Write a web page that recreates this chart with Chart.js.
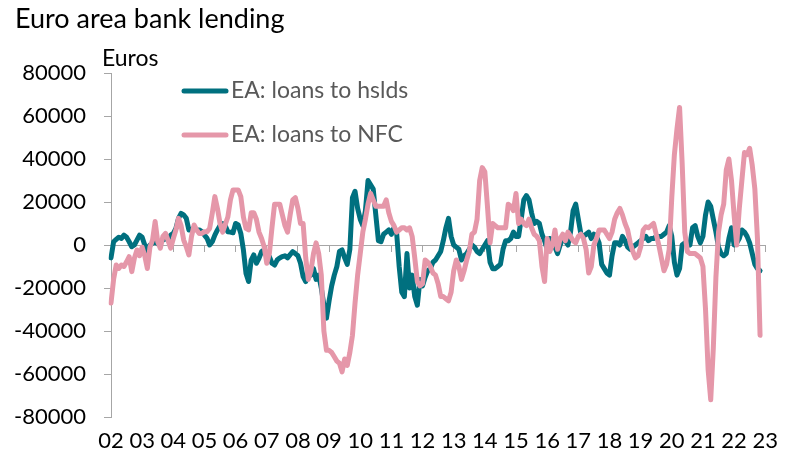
<!DOCTYPE html>
<html><head><meta charset="utf-8">
<script src="https://cdn.jsdelivr.net/npm/chart.js@4.4.1/dist/chart.umd.min.js"></script>
<style>
html,body{margin:0;padding:0;background:#fff;}
#wrap{position:relative;width:789px;height:462px;overflow:hidden;}
canvas{position:absolute;left:0;top:0;}
.t{position:absolute;font-family:Lato,sans-serif;white-space:nowrap;color:#000;}
</style></head><body>
<div id="wrap">
<canvas id="c" width="789" height="462"></canvas>
<div class="t" id="title" style="left:15px;top:4px;font-size:27px;line-height:27px;">Euro area bank lending</div>
<div class="t" id="unit" style="left:102px;top:46px;font-size:23px;line-height:23px;">Euros</div>
</div>
<script>
// ---- data ----
const years = [2002,2003,2004,2005,2006,2007,2008,2009,2010,2011,2012,2013,2014,2015,2016,2017,2018,2019,2020,2021,2022,2023];
const yearLabels = ['02','03','04','05','06','07','08','09','10','11','12','13','14','15','16','17','18','19','20','21','22','23'];
const seriesNames = ['EA: loans to hslds', 'EA: loans to NFC'];
const yTicks = [-80000,-60000,-40000,-20000,0,20000,40000,60000,80000];

// monthly categories Jan 2002 .. Jan 2023
const months = [];
years.forEach(y => { for (let m = 1; m <= 12; m++) { if (y < 2023 || m === 1) months.push(y + '-' + (m < 10 ? '0' + m : m)); } });

const hhLoans = [
-6000,1500,2600,3600,3100,4600,3600,1500,-800,0,2300,4600,
3600,0,-3100,0,800,1500,500,1500,2300,3100,2300,4600,
5400,7700,12400,14700,14000,12400,7000,7300,7700,7000,7000,6200,
4600,3100,0,1500,4600,7000,9000,10000,9000,6200,6000,5700,
10000,9300,5400,-2300,-13200,-17000,-7000,-4600,-8500,-6200,-3100,-2300,
-3900,-5400,-8500,-9300,-7000,-6000,-5400,-5000,-6000,-4500,-3100,-4000,
-5000,-8500,-14700,-17000,-13000,-14000,-11000,-16000,-14000,-20000,-28000,-34000,
-26000,-19000,-14000,-10000,-3000,-2300,-6000,-9000,-2000,22000,25000,17000,
12000,9000,16000,30000,28000,26000,14000,2000,1500,5000,6000,7000,
5000,8000,6000,-10000,-22000,-24000,-4000,-20000,-14000,-24000,-28000,-16000,
-19000,-15000,-12000,-11000,-8000,-7000,-5000,-3000,2000,8000,12400,4000,
0,-1000,-2000,-7000,-5000,-4000,-2000,0,-1000,-3000,-4000,-2000,
0,2000,-8000,-11000,-11000,-10000,-9000,-2000,2000,2000,3000,6000,
4000,4000,12000,21000,23000,21000,15000,10000,11000,10000,5000,2000,
-2000,3000,2000,-1000,-4000,0,3000,2000,0,6000,16000,19000,
12000,5000,4000,5000,6000,3000,5000,4000,1000,-9000,-11000,-13000,
-14000,-5000,1000,1000,0,4000,2000,-1000,-2000,-1000,0,1000,
2000,3000,4000,2000,3000,3000,4000,4000,4000,5000,6000,9000,
4000,-8000,-14000,-11000,0,1000,1000,0,8000,9000,4000,1000,
4000,14000,20000,18000,12000,6000,-1000,-4000,-5000,-4000,3000,8000,
0,1000,3000,7000,6000,4000,1000,-4000,-9000,-11000,-12000
];

const nfcLoans = [
-27000,-16000,-9300,-10900,-9300,-10000,-7800,-5400,-12400,-6200,-2300,-5000,
-1000,-5000,-10900,-1000,2300,10900,1500,-1500,4000,5400,2000,-1500,
3000,7000,12400,9000,2300,-800,-4600,3900,9300,7000,5400,5400,
6200,6200,7700,14700,22500,17000,10000,6000,9500,13000,21000,25600,
25600,25600,22500,13000,7700,7000,15000,15000,12000,6000,3000,-800,
-8500,-3900,8000,19000,19000,19000,14000,9000,6000,14000,21000,22000,
17000,10000,10000,-6000,-16000,-12000,-4000,1000,-4000,-14000,-40000,-49000,
-49000,-50000,-52000,-54000,-55000,-59000,-53000,-56000,-50000,-42000,-27000,-14000,
-4000,6000,12000,19000,24000,21000,18000,18000,18000,18000,21000,15000,
11000,9000,6000,7000,8000,8000,7000,8000,4000,-6000,-17000,-19000,
-18000,-7000,-8000,-10000,-13000,-14000,-18000,-24000,-24000,-25000,-26000,-22000,
-12000,-7000,-10000,-16000,-12000,-7000,-3000,5000,6000,12000,30000,36000,
34000,18000,1000,10000,9000,8000,8000,8000,8000,19000,18000,16000,
24000,10000,12000,10000,9000,12000,8000,5000,4000,2000,-10000,-17000,
3000,-3000,0,7000,-2000,3000,5000,2000,6000,4000,2000,1000,
4000,5000,3000,-2000,-13000,-10000,0,3000,7000,7000,7000,5000,
3000,6000,12000,15000,17000,14000,10000,7000,1000,-3000,-6000,-5000,
-1000,7000,8500,8000,9000,10000,5000,0,-6000,-12000,-9000,-2000,
22000,42000,54000,64000,38000,6000,-3000,-4000,-4000,-4000,-5000,-6000,
-10000,-30000,-58000,-72000,-48000,-15000,6000,14000,19000,35000,40000,30000,
14000,0,17000,30000,43000,42000,45000,37000,26000,3000,-42000
];

// ---- styles ----
const TEAL = '#00707F';
const PINK = '#E597A9';
const AXIS_GRAY = '#A6A6A6';
const FONT = 'Lato';

const legendPlugin = {
  id: 'insideLegend',
  afterDraw(chart) {
    const c = chart.ctx;
    const rows = [91, 135];
    c.save();
    chart.data.datasets.forEach((ds, k) => {
      const y = rows[k];
      c.strokeStyle = ds.borderColor;
      c.lineWidth = 5;
      c.lineCap = 'round';
      c.beginPath(); c.moveTo(184, y); c.lineTo(226, y); c.stroke();
      c.fillStyle = '#595959';
      c.font = '23px ' + FONT;
      c.textBaseline = 'alphabetic';
      c.textAlign = 'left';
      c.fillText(ds.label, 231, y + 7);
    });
    c.restore();
  }
};

new Chart(document.getElementById('c').getContext('2d'), {
  type: 'line',
  data: {
    labels: months,
    datasets: [
      { label: seriesNames[0], data: hhLoans, borderColor: TEAL, backgroundColor: TEAL, borderWidth: 5,
        pointRadius: 0, tension: 0, order: 2, borderJoinStyle: 'round', borderCapStyle: 'round' },
      { label: seriesNames[1], data: nfcLoans, borderColor: PINK, backgroundColor: PINK, borderWidth: 5,
        pointRadius: 0, tension: 0, order: 1, borderJoinStyle: 'round', borderCapStyle: 'round' }
    ]
  },
  options: {
    responsive: false, animation: false, devicePixelRatio: 1,
    layout: { padding: { left: 0, top: 73, right: 23, bottom: 0 } },
    plugins: { legend: { display: false }, tooltip: { enabled: false }, title: { display: false } },
    scales: {
      x: {
        type: 'category', axis: 'x', position: { y: 0 }, offset: false,
        grid: { display: true, drawOnChartArea: false, drawTicks: true, tickLength: 6, tickWidth: 1,
          tickColor: (c) => (c.index % 12 === 0 ? AXIS_GRAY : 'rgba(0,0,0,0)') },
        border: { display: true, color: AXIS_GRAY, width: 1 },
        ticks: { display: false, autoSkip: false }
      },
      x2: {
        type: 'category', axis: 'x', position: 'bottom', offset: false,
        grid: { display: false, drawTicks: false },
        border: { display: false },
        ticks: { autoSkip: false, maxRotation: 0, minRotation: 0, padding: 11, color: '#000',
          font: { family: FONT, size: 22 },
          callback: (v, i) => (i % 12 === 0 ? yearLabels[i / 12] : '') },
        afterFit: (s) => { s.height = 45; }
      },
      y: {
        type: 'linear', position: 'left', min: -80000, max: 80000,
        afterBuildTicks: (s) => { s.ticks = yTicks.map(v => ({ value: v })); },
        grid: { display: true, drawOnChartArea: false, drawTicks: true, tickLength: 7, tickColor: AXIS_GRAY },
        border: { display: true, color: AXIS_GRAY, width: 1 },
        ticks: { padding: 18, color: '#000', font: { family: FONT, size: 22 }, callback: (v) => String(v) },
        afterFit: (s) => { s.width = 111; }
      }
    }
  },
  plugins: [legendPlugin]
});
</script>
</body></html>
